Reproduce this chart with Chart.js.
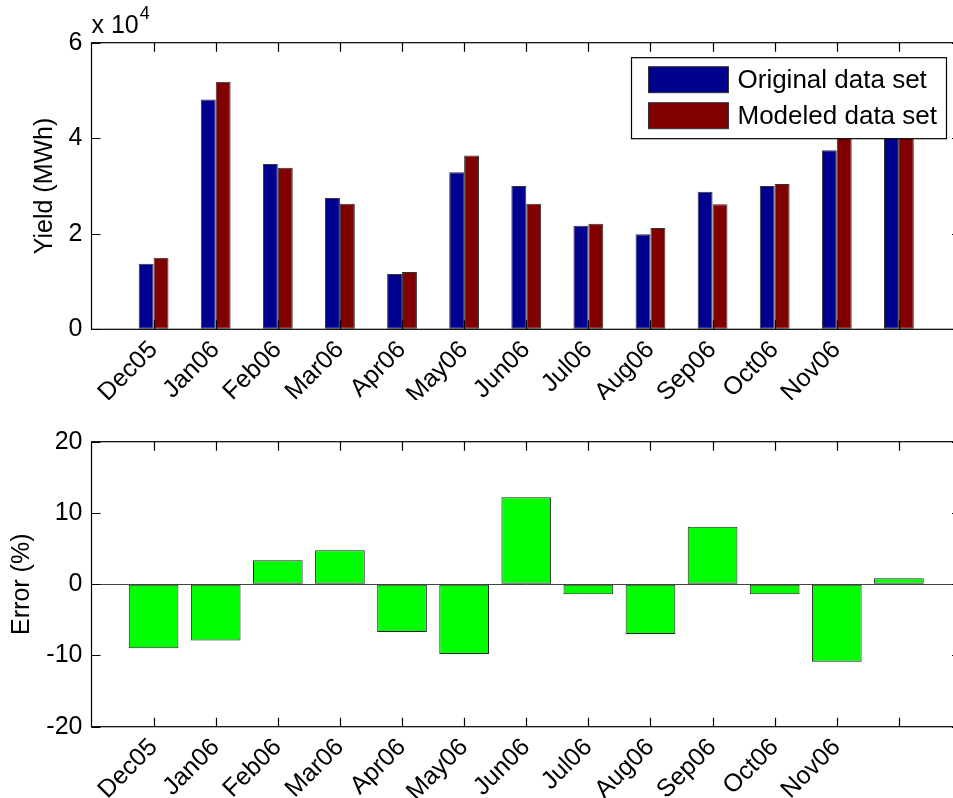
<!DOCTYPE html>
<html>
<head>
<meta charset="utf-8">
<script src="https://cdn.jsdelivr.net/npm/chart.js@4.4.1/dist/chart.umd.min.js"></script>
<style>
  html, body { margin: 0; padding: 0; background: #fff; overflow: hidden; width: 953px; height: 798px; }
  .panel { position: absolute; left: 0; width: 980px; }
  #topPanel { top: 0; height: 400px; }
  #bottomPanel { top: 400px; height: 398px; }
</style>
</head>
<body>
<div class="panel" id="topPanel"><canvas id="yieldChart"></canvas></div>
<div class="panel" id="bottomPanel"><canvas id="errorChart"></canvas></div>
<script>
// months on the x axis (the 13th bar has no label in the original)
const months = ['Dec05', 'Jan06', 'Feb06', 'Mar06', 'Apr06', 'May06', 'Jun06',
  'Jul06', 'Aug06', 'Sep06', 'Oct06', 'Nov06', ''];

// yield in MWh
const originalYield = [13700, 48100, 34600, 27500, 11600, 32900, 30000, 21700, 19900, 28800, 30000, 37500, 44000];
const modeledYield = [15000, 51800, 33800, 26300, 12000, 36400, 26300, 22100, 21200, 26200, 30400, 41600, 43600];

// relative error in %
const errorPercent = [-9.0, -7.9, 3.35, 4.75, -6.7, -9.8, 12.2, -1.4, -7.0, 8.05, -1.4, -10.9, 0.85];

const yieldTicks = [0, 20000, 40000, 60000];
const errorTicks = [-20, -10, 0, 10, 20];

const FONT = 'Liberation Sans, Arial, Helvetica, sans-serif';
Chart.defaults.font.family = FONT;
Chart.defaults.font.size = 25;
Chart.defaults.color = '#000';

const toPoints = (values) => values.map((v, i) => ({ x: i + 1, y: v }));

// matlab style box with inward tick marks
const matlabBox = {
  id: 'matlabBox',
  afterDatasetsDraw(chart) {
    const { ctx, chartArea: a, scales: { x, y } } = chart;
    ctx.save();
    ctx.strokeStyle = '#000';
    ctx.lineWidth = 1.2;
    ctx.strokeRect(a.left, a.top, a.right - a.left, a.bottom - a.top);
    ctx.beginPath();
    x.ticks.forEach((t) => {
      const px = Math.round(x.getPixelForValue(t.value)) + 0.5;
      ctx.moveTo(px, a.bottom); ctx.lineTo(px, a.bottom - 9);
      ctx.moveTo(px, a.top); ctx.lineTo(px, a.top + 9);
    });
    y.ticks.forEach((t) => {
      const py = Math.round(y.getPixelForValue(t.value)) + 0.5;
      ctx.moveTo(a.left, py); ctx.lineTo(a.left + 9, py);
      ctx.moveTo(a.right, py); ctx.lineTo(a.right - 9, py);
    });
    ctx.stroke();
    ctx.restore();
  }
};

// legend box inside the axes + the "x 10^4" exponent label
const yieldDecor = {
  id: 'yieldDecor',
  afterDraw(chart) {
    const { ctx, chartArea: a } = chart;
    ctx.save();
    // exponent
    ctx.fillStyle = '#000';
    ctx.textBaseline = 'alphabetic';
    ctx.textAlign = 'left';
    ctx.font = '25px ' + FONT;
    ctx.fillText('x 10', a.left, a.top - 10);
    const w = ctx.measureText('x 10').width;
    ctx.font = '18px ' + FONT;
    ctx.fillText('4', a.left + w + 1, a.top - 24);

    // legend
    const lx = a.left + 540, ly = a.top + 15, lw = 315, lh = 81;
    ctx.fillStyle = '#fff';
    ctx.fillRect(lx, ly, lw, lh);
    ctx.strokeStyle = '#000';
    ctx.lineWidth = 1.2;
    ctx.strokeRect(lx, ly, lw, lh);
    ctx.font = '26px ' + FONT;
    ctx.textBaseline = 'middle';
    chart.data.datasets.forEach((ds, i) => {
      const sy = ly + 9 + i * 36;
      ctx.fillStyle = ds.backgroundColor;
      ctx.fillRect(lx + 17, sy, 80, 26);
      ctx.strokeStyle = '#333';
      ctx.lineWidth = 1;
      ctx.strokeRect(lx + 17, sy, 80, 26);
      ctx.fillStyle = '#000';
      ctx.fillText(ds.label, lx + 106, sy + 14);
    });
    ctx.restore();
  }
};

function monthAxis(height) {
  return {
    type: 'linear',
    min: 0,
    max: 14,
    offset: false,
    afterBuildTicks: (scale) => { scale.ticks = months.map((m, i) => ({ value: i + 1 })); },
    afterFit: (scale) => { scale.height = height; },
    grid: { drawOnChartArea: false, drawTicks: false, offset: false },
    border: { display: false },
    ticks: {
      autoSkip: false,
      minRotation: 45,
      maxRotation: 45,
      padding: 6,
      callback: (v) => months[v - 1] ?? ''
    }
  };
}

new Chart(document.getElementById('yieldChart'), {
  type: 'bar',
  data: {
    datasets: [
      {
        label: 'Original data set',
        data: toPoints(originalYield),
        backgroundColor: 'rgb(0, 0, 143)',
        borderColor: '#333',
        borderWidth: 1,
        borderSkipped: false,
        categoryPercentage: 0.48,
        barPercentage: 1.0
      },
      {
        label: 'Modeled data set',
        data: toPoints(modeledYield),
        backgroundColor: 'rgb(128, 0, 0)',
        borderColor: '#333',
        borderWidth: 1,
        borderSkipped: false,
        categoryPercentage: 0.48,
        barPercentage: 1.0
      }
    ]
  },
  options: {
    responsive: true,
    maintainAspectRatio: false,
    animation: false,
    devicePixelRatio: 1,
    layout: { padding: { top: 42.7, right: 19, bottom: 0, left: 0 } },
    plugins: { legend: { display: false }, tooltip: { enabled: false } },
    scales: {
      x: monthAxis(70.7),
      y: {
        min: 0,
        max: 60000,
        afterBuildTicks: (scale) => { scale.ticks = yieldTicks.map((v) => ({ value: v })); },
        afterFit: (scale) => { scale.width = 91.5; },
        grid: { drawOnChartArea: false, drawTicks: false },
        border: { display: false },
        ticks: { padding: 9, callback: (v) => v / 10000 },
        title: { display: true, text: 'Yield (MWh)', padding: { top: 30, bottom: 0 } }
      }
    }
  },
  plugins: [matlabBox, yieldDecor]
});

new Chart(document.getElementById('errorChart'), {
  type: 'bar',
  data: {
    datasets: [
      {
        label: 'Error',
        data: toPoints(errorPercent),
        backgroundColor: '#00ff00',
        borderColor: '#222',
        borderWidth: 1,
        borderSkipped: false,
        categoryPercentage: 0.8,
        barPercentage: 1.0
      }
    ]
  },
  options: {
    responsive: true,
    maintainAspectRatio: false,
    animation: false,
    devicePixelRatio: 1,
    layout: { padding: { top: 41.7, right: 19, bottom: 0, left: 0 } },
    plugins: { legend: { display: false }, tooltip: { enabled: false } },
    scales: {
      x: monthAxis(71.3),
      y: {
        min: -20,
        max: 20,
        afterBuildTicks: (scale) => { scale.ticks = errorTicks.map((v) => ({ value: v })); },
        afterFit: (scale) => { scale.width = 91.5; },
        grid: {
          drawTicks: false,
          lineWidth: 1,
          color: (c) => (c.tick && c.tick.value === 0 ? '#444' : 'rgba(0,0,0,0)')
        },
        border: { display: false },
        ticks: { padding: 9 },
        title: { display: true, text: 'Error (%)', padding: { top: 7, bottom: 0 } }
      }
    }
  },
  plugins: [matlabBox]
});
</script>
</body>
</html>
